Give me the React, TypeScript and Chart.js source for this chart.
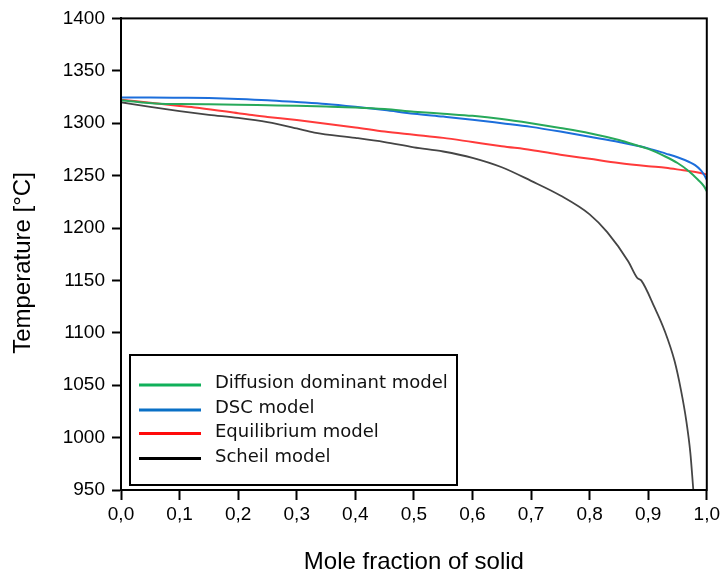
import React, { useEffect, useRef } from "react";
import { Chart, registerables } from "chart.js";

Chart.register(...registerables);

const seriesNames = ["Diffusion dominant model", "DSC model", "Equilibrium model", "Scheil model"];
const lineColors = ["#27A95A", "#1C6EDB", "#FF3A3A", "#454545"];
const legendColors = ["#10B05A", "#0A70C6", "#FF0A0A", "#000000"];

const diffusionX = [0, 0.066, 0.1, 0.15, 0.2, 0.25, 0.3, 0.35, 0.4, 0.45, 0.5, 0.55, 0.6, 0.65, 0.7, 0.75, 0.8, 0.85, 0.88, 0.9, 0.93, 0.95, 0.97, 0.985, 0.995, 1.0];
const diffusionT = [1322, 1318.5, 1318.3, 1318, 1317.6, 1317.1, 1316.6, 1315.9, 1315, 1313.5, 1311, 1309, 1307, 1304, 1300, 1295.5, 1290.5, 1284, 1279, 1275.5, 1268, 1262, 1254, 1246, 1240, 1235];

const dscX = [0, 0.05, 0.1, 0.15, 0.2, 0.25, 0.3, 0.35, 0.4, 0.45, 0.5, 0.55, 0.6, 0.65, 0.7, 0.75, 0.8, 0.85, 0.9, 0.93, 0.95, 0.97, 0.98, 0.99, 0.995, 1.0];
const dscT = [1324.5, 1324.5, 1324.3, 1324, 1323.2, 1322, 1320.2, 1318.3, 1315.6, 1312.5, 1309, 1306.3, 1303.4, 1300, 1296.5, 1292, 1287, 1282, 1276, 1271, 1267.5, 1263, 1260, 1255, 1251, 1246];

const equilibriumX = [0, 0.066, 0.1, 0.134, 0.2, 0.219, 0.25, 0.3, 0.35, 0.4, 0.45, 0.5, 0.55, 0.6, 0.65, 0.7, 0.75, 0.8, 0.85, 0.9, 0.93, 0.96, 0.985, 1.0];
const equilibriumT = [1322.5, 1318.6, 1316.5, 1314.6, 1309.5, 1308, 1306, 1303, 1299.5, 1296, 1292, 1289, 1286, 1282, 1278, 1274.5, 1270, 1266, 1262, 1259, 1257.5, 1255, 1253, 1251];

const scheilX = [0, 0.05, 0.1, 0.15, 0.2, 0.25, 0.3, 0.33, 0.4, 0.45, 0.5, 0.55, 0.6, 0.65, 0.7, 0.75, 0.8, 0.83, 0.866, 0.881, 0.888, 0.911, 0.928, 0.945, 0.956, 0.965, 0.972, 0.977];
const scheilT = [1320, 1315.5, 1311.5, 1308, 1305, 1301, 1295, 1291, 1286, 1282, 1277, 1273, 1267, 1258, 1245, 1231, 1213, 1196, 1168, 1152.5, 1150, 1124, 1102, 1073, 1045, 1016, 985, 950];

const xTicks = [0, 0.1, 0.2, 0.3, 0.4, 0.5, 0.6, 0.7, 0.8, 0.9, 1.0];
const yTicks = [950, 1000, 1050, 1100, 1150, 1200, 1250, 1300, 1350, 1400];

const xTitle = "Mole fraction of solid";
const yTitle = "Temperature [°C]";

const seriesX = [diffusionX, dscX, equilibriumX, scheilX];
const seriesT = [diffusionT, dscT, equilibriumT, scheilT];

const framePlugin = {
  id: "frameAndLegend",
  afterDraw(chart: any) {
    const { ctx, chartArea } = chart;
    ctx.save();
    // frame
    ctx.strokeStyle = "#000";
    ctx.lineWidth = 2;
    ctx.strokeRect(chartArea.left, chartArea.top, chartArea.right - chartArea.left, chartArea.bottom - chartArea.top);

    // axis titles
    ctx.fillStyle = "#000";
    ctx.font = '24px "Liberation Sans", Arial, sans-serif';
    ctx.textAlign = "center";
    ctx.textBaseline = "middle";
    ctx.fillText(xTitle, (chartArea.left + chartArea.right) / 2, 562);
    ctx.save();
    ctx.translate(23, 263);
    ctx.rotate(-Math.PI / 2);
    ctx.fillText(yTitle, 0, 0);
    ctx.restore();

    // legend
    const bx = 130, by = 355, bw = 327, bh = 130;
    ctx.fillStyle = "#fff";
    ctx.fillRect(bx, by, bw, bh);
    ctx.strokeStyle = "#000";
    ctx.lineWidth = 2;
    ctx.strokeRect(bx, by, bw, bh);
    const rowsY = [385, 410, 433.5, 458.5];
    ctx.font = '18px "DejaVu Sans", Verdana, sans-serif';
    ctx.textAlign = "left";
    ctx.textBaseline = "middle";
    chart.data.datasets.forEach((ds: any, i: number) => {
      const y = rowsY[i];
      ctx.strokeStyle = legendColors[i];
      ctx.lineWidth = 3;
      ctx.beginPath();
      ctx.moveTo(139, y);
      ctx.lineTo(201, y);
      ctx.stroke();
      ctx.fillStyle = "#111";
      ctx.fillText(ds.label, 215, y - 1.5);
    });
    ctx.restore();
  },
};

export default function App() {
  const ref = useRef<HTMLCanvasElement>(null);

  useEffect(() => {
    document.body.style.margin = "0";
    const canvas = ref.current;
    if (!canvas) return;
    const datasets = seriesNames.map((name, i) => ({
      label: name,
      data: seriesX[i].map((x, j) => ({ x, y: seriesT[i][j] })),
      borderColor: lineColors[i],
      backgroundColor: lineColors[i],
      borderWidth: i === 3 ? 1.8 : 2,
      pointRadius: 0,
      fill: false,
      cubicInterpolationMode: "monotone" as const,
    }));
    const chart = new Chart(canvas, {
      type: "line",
      data: { datasets },
      options: {
        responsive: false,
        animation: false,
        layout: { padding: { top: 16, right: 14, left: 0, bottom: 0 } },
        plugins: { legend: { display: false }, tooltip: { enabled: false } },
        scales: {
          x: {
            type: "linear",
            min: 0,
            max: 1,
            afterBuildTicks(scale: any) {
              scale.ticks = xTicks.map((v) => ({ value: v }));
            },
            afterFit(scale: any) {
              scale.height = 577 - 490 - 0;
            },
            grid: {
              drawOnChartArea: false,
              drawTicks: true,
              tickLength: 10,
              tickWidth: 2,
              tickColor: "#000",
            },
            border: { display: true, color: "#000", width: 2 },
            ticks: {
              color: "#000",
              padding: 3,
              maxRotation: 0,
              autoSkip: false,
              font: { family: '"Liberation Sans", Arial, sans-serif', size: 19 },
              callback: (v: any) => Number(v).toFixed(1).replace(".", ","),
            },
          },
          y: {
            type: "linear",
            min: 950,
            max: 1400,
            afterBuildTicks(scale: any) {
              scale.ticks = yTicks.map((v) => ({ value: v }));
            },
            afterFit(scale: any) {
              scale.width = 121;
            },
            grid: {
              drawOnChartArea: false,
              drawTicks: true,
              tickLength: 9,
              tickWidth: 2,
              tickColor: "#000",
            },
            border: { display: true, color: "#000", width: 2 },
            ticks: {
              color: "#000",
              padding: 7,
              autoSkip: false,
              font: { family: '"Liberation Sans", Arial, sans-serif', size: 19 },
              callback: (v: any) => String(v),
            },
          },
        },
      },
      plugins: [framePlugin],
    });
    return () => chart.destroy();
  }, []);

  return (
    <div style={{ width: 723, height: 577, background: "#fff" }}>
      <canvas ref={ref} width={723} height={577} style={{ display: "block" }} />
    </div>
  );
}
